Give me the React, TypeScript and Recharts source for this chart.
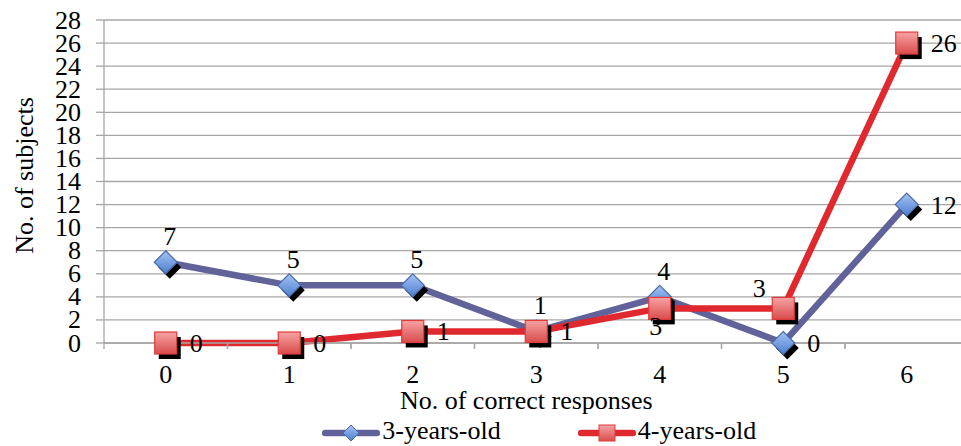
import React from 'react';
import { LineChart, Line, XAxis, YAxis, CartesianGrid, LabelList, Legend, Label } from 'recharts';

// Number of correct responses (categories on the x axis)
const responses = ['0', '1', '2', '3', '4', '5', '6'];
// Number of subjects per group
const threeYearsOld = [7, 5, 5, 1, 4, 0, 12];
const fourYearsOld = [0, 0, 1, 1, 3, 3, 26];
const yTicks = [0, 2, 4, 6, 8, 10, 12, 14, 16, 18, 20, 22, 24, 26, 28];
// Where each value label sits relative to its point
const labelSide3 = ['top', 'top', 'top', 'top', 'top', 'right', 'right'];
const labelSide4 = ['right', 'right', 'right', 'right', 'bottom', 'topLeft', 'right'];

const data = responses.map((r, i) => ({
  responses: r,
  three: threeYearsOld[i],
  four: fourYearsOld[i],
}));

const W = 980;
const H = 446;
const PLOT_LEFT = 104;
const PLOT_RIGHT = 968.5;
const BAND = (PLOT_RIGHT - PLOT_LEFT) / responses.length;
const FONT = 'Liberation Serif, Tinos, DejaVu Serif, Noto Serif, Times New Roman, serif';
const FS = 26;
const GRID = '#a6a6a6';
const BLUE_LINE = '#62629a';
const RED_LINE = '#e0282f';

const diamondPts = (cx: number, cy: number, r: number) =>
  `${cx},${cy - r} ${cx + r},${cy} ${cx},${cy + r} ${cx - r},${cy}`;

const DiamondDot = (props: any) => {
  const { cx, cy } = props;
  if (cx == null || cy == null) return null;
  return (
    <g>
      <polygon points={diamondPts(cx + 4, cy + 5, 11.5)} fill="#000" />
      <polygon points={diamondPts(cx, cy, 11.5)} fill="url(#gradBlue)" stroke="#4a6aa6" strokeWidth={1.2} />
    </g>
  );
};

const SquareDot = (props: any) => {
  const { cx, cy } = props;
  if (cx == null || cy == null) return null;
  const h = 11;
  return (
    <g>
      <rect x={cx - h + 4} y={cy - h + 5} width={2 * h} height={2 * h} fill="#000" />
      <rect x={cx - h} y={cy - h} width={2 * h} height={2 * h} fill="url(#gradRed)" stroke="#e03a3a" strokeWidth={1.2} />
    </g>
  );
};

const makeLabel = (sides: string[]) => (props: any) => {
  const { x, y, value, index } = props;
  const side = sides[index];
  let tx = x;
  let ty = y;
  let anchor: 'start' | 'middle' | 'end' = 'middle';
  if (side === 'top') {
    tx = x + 4;
    ty = y - 17;
  } else if (side === 'right') {
    tx = x + 24;
    ty = y + 9;
    anchor = 'start';
  } else if (side === 'bottom') {
    tx = x - 4;
    ty = y + 27;
  } else if (side === 'topLeft') {
    tx = x - 24;
    ty = y - 11;
  }
  return (
    <text x={tx} y={ty} textAnchor={anchor} fontSize={FS} style={{ fontFamily: FONT }} fill="#000">
      {value}
    </text>
  );
};

const CategoryTick = (props: any) => {
  const { x, y, payload } = props;
  return (
    <g>
      <line x1={x - BAND / 2} y1={y} x2={x - BAND / 2} y2={y + 6} stroke={GRID} strokeWidth={1.3} />
      <line x1={x + BAND / 2} y1={y} x2={x + BAND / 2} y2={y + 6} stroke={GRID} strokeWidth={1.3} />
      <text x={x} y={y + 40} textAnchor="middle" fontSize={FS} style={{ fontFamily: FONT }} fill="#000">
        {payload.value}
      </text>
    </g>
  );
};

const YTick = (props: any) => {
  const { x, y, payload } = props;
  return (
    <text x={x} y={y + 8.5} textAnchor="end" fontSize={FS} style={{ fontFamily: FONT }} fill="#000">
      {payload.value}
    </text>
  );
};

const LegendItem = ({ kind, color, text }: { kind: 'diamond' | 'square'; color: string; text: string }) => (
  <div style={{ display: 'flex', alignItems: 'center' }}>
    <svg width={58} height={30}>
      <defs>
        <linearGradient id={`legend-${kind}`} x1="0" y1="0" x2="0" y2="1">
          <stop offset="0%" stopColor={kind === 'diamond' ? '#a5c3f2' : '#f7a3a3'} />
          <stop offset="100%" stopColor={kind === 'diamond' ? '#4b7fd0' : '#d94c4c'} />
        </linearGradient>
      </defs>
      <line x1={3} y1={17} x2={55} y2={17} stroke={color} strokeWidth={6.5} strokeLinecap="round" />
      {kind === 'diamond' ? (
        <polygon points={diamondPts(29, 17, 8)} fill={`url(#legend-${kind})`} stroke="#4a6aa6" strokeWidth={1} />
      ) : (
        <rect x={21} y={9} width={16} height={16} fill={`url(#legend-${kind})`} stroke="#e03a3a" strokeWidth={1} />
      )}
    </svg>
    <span style={{ fontFamily: FONT, fontSize: FS, color: '#000', marginLeft: 2, lineHeight: '30px' }}>{text}</span>
  </div>
);

const LegendContent = () => (
  <div
    style={{
      marginLeft: PLOT_LEFT,
      width: PLOT_RIGHT - PLOT_LEFT,
      height: 30,
      display: 'flex',
      justifyContent: 'center',
      gap: 77,
      paddingLeft: 6,
      boxSizing: 'border-box',
    }}
  >
    <LegendItem kind="diamond" color={BLUE_LINE} text="3-years-old" />
    <LegendItem kind="square" color={RED_LINE} text="4-years-old" />
  </div>
);

export default function App() {
  return (
    <div style={{ position: 'absolute', left: 0, top: 0, width: 961, height: 446, overflow: 'hidden', background: '#fff', fontFamily: FONT }}>
      <LineChart
        width={W}
        height={H}
        data={data}
        margin={{ top: 20, right: W - PLOT_RIGHT, left: 0, bottom: 0 }}
        style={{ fontFamily: FONT }}
      >
        <defs>
          <linearGradient id="gradBlue" x1="0" y1="0" x2="0" y2="1">
            <stop offset="0%" stopColor="#a5c3f2" />
            <stop offset="100%" stopColor="#4b7fd0" />
          </linearGradient>
          <linearGradient id="gradRed" x1="0" y1="0" x2="0" y2="1">
            <stop offset="0%" stopColor="#f7a3a3" />
            <stop offset="100%" stopColor="#d94c4c" />
          </linearGradient>
        </defs>
        <CartesianGrid vertical={false} stroke={GRID} strokeWidth={1.3} />
        <XAxis
          dataKey="responses"
          type="category"
          padding={{ left: BAND / 2, right: BAND / 2 }}
          height={73}
          axisLine={{ stroke: GRID, strokeWidth: 1.3 }}
          tickLine={false}
          tickSize={0}
          tickMargin={0}
          tick={<CategoryTick />}
          interval={0}
        >
          <Label
            content={(p: any) => {
              const vb = p.viewBox;
              return (
                <text
                  x={vb.x + vb.width / 2 - 10}
                  y={vb.y + 66}
                  textAnchor="middle"
                  fontSize={FS}
                  style={{ fontFamily: FONT }}
                  fill="#000"
                >
                  No. of correct responses
                </text>
              );
            }}
          />
        </XAxis>
        <YAxis
          width={PLOT_LEFT}
          domain={[0, 28]}
          ticks={yTicks}
          interval={0}
          axisLine={{ stroke: GRID, strokeWidth: 1.3 }}
          tickLine={{ stroke: GRID, strokeWidth: 1.3 }}
          tickSize={8}
          tickMargin={15}
          tick={<YTick />}
        >
          <Label
            content={(p: any) => {
              const vb = p.viewBox;
              const cy = vb.y + vb.height / 2 - 6;
              return (
                <text
                  x={24}
                  y={cy}
                  transform={`rotate(-90, 24, ${cy})`}
                  textAnchor="middle"
                  dominantBaseline="central"
                  fontSize={FS}
                  style={{ fontFamily: FONT }}
                  fill="#000"
                >
                  No. of subjects
                </text>
              );
            }}
          />
        </YAxis>
        <Legend verticalAlign="bottom" height={30} wrapperStyle={{ left: 0, width: W }} content={<LegendContent />} />
        <Line
          dataKey="three"
          name="3-years-old"
          stroke={BLUE_LINE}
          strokeWidth={6.5}
          dot={<DiamondDot />}
          activeDot={false}
          isAnimationActive={false}
        >
          <LabelList dataKey="three" content={makeLabel(labelSide3)} />
        </Line>
        <Line
          dataKey="four"
          name="4-years-old"
          stroke={RED_LINE}
          strokeWidth={6.5}
          dot={<SquareDot />}
          activeDot={false}
          isAnimationActive={false}
        >
          <LabelList dataKey="four" content={makeLabel(labelSide4)} />
        </Line>
      </LineChart>
    </div>
  );
}
